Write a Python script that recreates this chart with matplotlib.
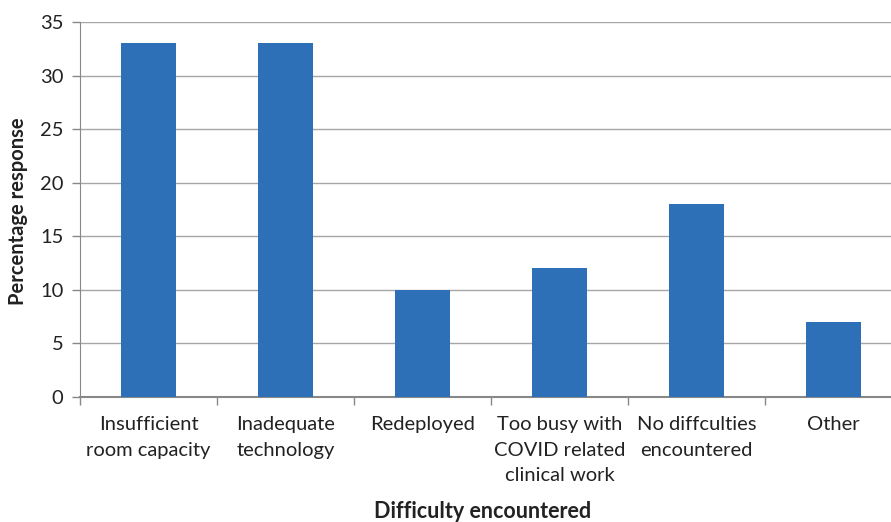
import matplotlib
matplotlib.use("Agg")
import matplotlib.pyplot as plt

categories = ["Insufficient\nroom capacity", "Inadequate\ntechnology", "Redeployed",
              "Too busy with\nCOVID related\nclinical work", "No diffculties\nencountered", "Other"]
values = [33, 33, 10, 12, 18, 7]
yticks = [0, 5, 10, 15, 20, 25, 30, 35]

plt.rcParams['font.family'] = ['Lato', 'DejaVu Sans']

fig = plt.figure(figsize=(8.91, 5.22), dpi=100)
W, H = 891, 522
left, right, top, bottom = 80, 902, 22, 397
ax = fig.add_axes([left / W, 1 - bottom / H, (right - left) / W, (bottom - top) / H])

x = list(range(len(values)))
ax.bar(x, values, width=0.4, color="#2E70B8", zorder=3)
ax.set_xlim(-0.5, len(values) - 0.5)
ax.set_ylim(0, 35)
ax.set_yticks(yticks)
ax.set_yticklabels([str(v) for v in yticks], fontsize=14.5, color="#222222")
ax.yaxis.grid(True, color="#A6A6A6", linewidth=1.0, zorder=0)

ax.set_xticks([i - 0.5 for i in range(len(values) + 1)])
ax.set_xticklabels([])
ax.set_xticks(x, minor=True)
ax.set_xticklabels(categories, minor=True, fontsize=14.5, color="#222222", va="top",
                   linespacing=1.6)
ax.tick_params(axis="x", which="minor", length=0, pad=14)
ax.tick_params(axis="x", which="major", length=6, color="#888888", width=1)
ax.tick_params(axis="y", length=6, color="#888888", width=1, pad=6)

for s in ["top", "right"]:
    ax.spines[s].set_visible(False)
ax.spines["left"].set_color("#888888")
ax.spines["bottom"].set_color("#888888")
ax.spines["bottom"].set_linewidth(1.5)

fig.text(483 / W, 1 - 511 / H, "Difficulty encountered", ha="center", va="center",
         fontsize=15.5, fontweight="bold", color="#222222")
fig.text(18 / W, 1 - 211 / H, "Percentage response", ha="center", va="center",
         rotation=90, fontsize=14.5, fontweight="bold", color="#222222")

fig.savefig("out.png", dpi=100)
